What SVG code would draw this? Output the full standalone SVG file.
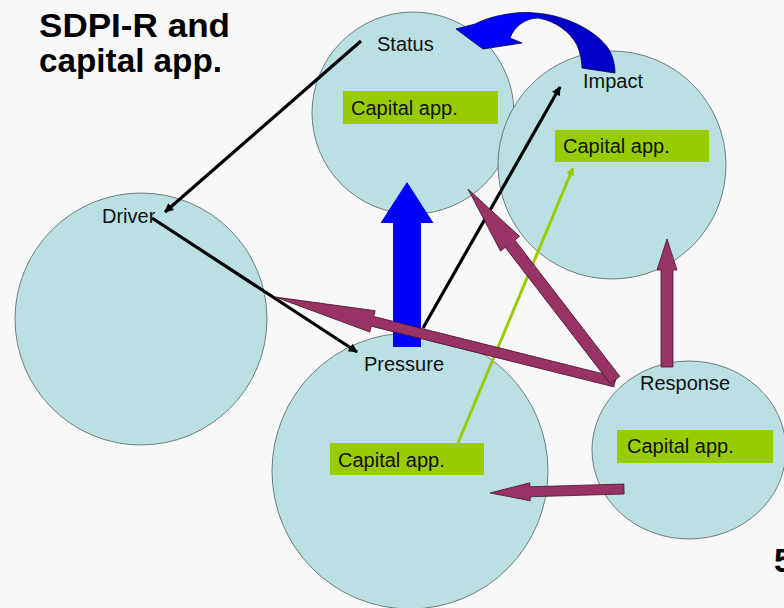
<svg xmlns="http://www.w3.org/2000/svg" width="784" height="608" viewBox="0 0 784 608">
<style>
.node{fill:#bbe0e3;stroke:#4a5a5c;stroke-width:1;stroke-opacity:0.75}
.lbl{font-family:"Liberation Sans",Arial,sans-serif;font-size:20px;fill:#111}
.box{fill:#99cc00}
.title{font-family:"Liberation Sans",Arial,sans-serif;font-size:33px;font-weight:bold;fill:#000}
.blk{stroke:#000;stroke-width:3.2;fill:none}
.grn{stroke:#99cc00;stroke-width:3;fill:none}
.pur{fill:#993366;stroke:#4a1530;stroke-width:0.8}
</style>
<defs>
<marker id="ab" viewBox="0 0 10 10" refX="9" refY="5" markerWidth="13" markerHeight="9" markerUnits="userSpaceOnUse" orient="auto">
<path d="M0,0 L10,5 L0,10 z" fill="#000"/>
</marker>
<marker id="ag" viewBox="0 0 10 10" refX="9" refY="5" markerWidth="11" markerHeight="8" markerUnits="userSpaceOnUse" orient="auto">
<path d="M0,0 L10,5 L0,10 z" fill="#99cc00"/>
</marker>
<linearGradient id="bg2" gradientUnits="userSpaceOnUse" x1="456" y1="0" x2="615" y2="0">
<stop offset="0.55" stop-color="#0000ff"/>
<stop offset="0.55" stop-color="#0000c8"/>
</linearGradient>
</defs>
<rect width="784" height="608" fill="#f8f8f8"/>
<g id="title">
<text class="title" x="39" y="37" textLength="191" lengthAdjust="spacingAndGlyphs">SDPI-R and</text>
<text class="title" x="39" y="72" textLength="183" lengthAdjust="spacingAndGlyphs">capital app.</text>
</g>
<g id="driver">
<circle class="node" cx="141" cy="319" r="126"/>
<text class="lbl" x="102" y="223">Driver</text>
</g>
<g id="status">
<circle class="node" cx="413" cy="113" r="101"/>
<text class="lbl" x="377" y="51">Status</text>
<rect class="box" x="343" y="91" width="155" height="33"/>
<text class="lbl" x="351" y="115">Capital app.</text>
</g>
<g id="impact">
<circle class="node" cx="612" cy="165" r="114"/>
<text class="lbl" x="583" y="88">Impact</text>
<rect class="box" x="555" y="130" width="154" height="32"/>
<text class="lbl" x="563" y="153">Capital app.</text>
</g>
<g id="pressure">
<circle class="node" cx="410" cy="471" r="138"/>
<text class="lbl" x="364" y="371">Pressure</text>
<rect class="box" x="330" y="443" width="154" height="32"/>
<text class="lbl" x="338" y="467">Capital app.</text>
</g>
<g id="response">
<ellipse class="node" cx="689" cy="450" rx="97" ry="89"/>
<text class="lbl" x="640" y="390">Response</text>
<rect class="box" x="617" y="430" width="156" height="33"/>
<text class="lbl" x="627" y="453">Capital app.</text>
</g>
<g id="slide-number">
<text class="title" x="774" y="572">5</text>
</g>
<g id="connectors">
<path d="M456,29 L475,24 C490,16 515,11 535,13 C565,15 595,30 608,48 C613,56 615,65 615,73 L582,68 C582,60 580,52 577,45 C570,32 556,21 538,18 C525,18 514,27 510,38 L522,43 L483,49 Z" fill="url(#bg2)" stroke="#00004a" stroke-width="0.8"/>
<polygon transform="translate(407,347) rotate(-90)" points="0,-14 124,-14 124,-26.5 165,0 124,26.5 124,14 0,14" fill="#0000ff"/>
<line class="blk" x1="361" y1="41" x2="165" y2="212" marker-end="url(#ab)"/>
<line class="blk" x1="152" y1="218" x2="357" y2="352" marker-end="url(#ab)"/>
<line class="blk" x1="423" y1="328" x2="560" y2="87" marker-end="url(#ab)"/>
<line class="grn" x1="458" y1="443" x2="573" y2="168" marker-end="url(#ag)"/>
<polygon class="pur" transform="translate(615,382) rotate(194.04)" points="0,-5 250,-5 250,-11 350,0 250,11 250,5 0,5"/>
<polygon class="pur" transform="translate(615,380) rotate(232.4)" points="0,-6 172,-6 172,-12 241,0 172,12 172,6 0,6"/>
<polygon class="pur" transform="translate(667,367) rotate(-90)" points="0,-6 97,-6 97,-10 128,0 97,10 97,6 0,6"/>
<polygon class="pur" transform="translate(624,489) rotate(178.3)" points="0,-5 94,-5 94,-9 134,0 94,9 94,5 0,5"/>
</g>
</svg>
